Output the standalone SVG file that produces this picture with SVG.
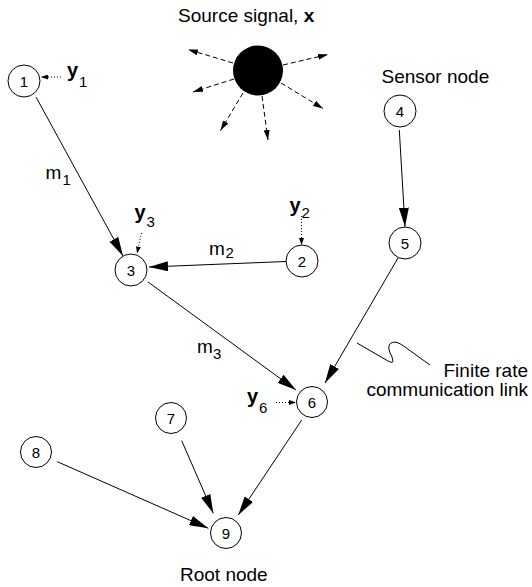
<svg xmlns="http://www.w3.org/2000/svg" width="532" height="587" viewBox="0 0 532 587">
<style>
text{font-family:"Liberation Sans",Arial,sans-serif;fill:#000}
.lbl{font-size:19px}
.num{font-size:15px;text-anchor:middle}
.yb{font-size:20px;font-weight:bold}
.sub{font-size:15px}
.node circle{fill:#fff;stroke:#000;stroke-width:1}
.edge{stroke:#000;stroke-width:1;fill:none;marker-end:url(#ah)}
.dot{stroke:#000;stroke-width:1;fill:none;stroke-dasharray:1 2;marker-end:url(#ahs)}
.dash{stroke:#000;stroke-width:1;fill:none;stroke-dasharray:5 3;marker-end:url(#ahd)}
</style>
<defs>
<marker id="ah" markerUnits="userSpaceOnUse" markerWidth="19" markerHeight="10" refX="19" refY="5" orient="auto"><path d="M0,0 L19,5 L0,10 z" fill="#000"/></marker>
<marker id="ahs" markerUnits="userSpaceOnUse" markerWidth="7" markerHeight="5" refX="7" refY="2.5" orient="auto"><path d="M0,0 L7,2.5 L0,5 z" fill="#000"/></marker>
<marker id="ahd" markerUnits="userSpaceOnUse" markerWidth="10" markerHeight="6" refX="10" refY="3" orient="auto"><path d="M0,0 L10,3 L0,6 z" fill="#000"/></marker>
</defs>

<g id="source">
<text class="lbl" x="178" y="22">Source signal, <tspan font-weight="bold">x</tspan></text>
<circle cx="258" cy="70.5" r="25" fill="#000"/>
<line class="dash" x1="233" y1="63" x2="188" y2="49.5"/>
<line class="dash" x1="283" y1="65" x2="328" y2="54.5"/>
<line class="dash" x1="234" y1="79" x2="193" y2="92"/>
<line class="dash" x1="281" y1="83" x2="323" y2="108.5"/>
<line class="dash" x1="243" y1="93" x2="220.5" y2="130.5"/>
<line class="dash" x1="262" y1="96" x2="268" y2="140"/>
</g>

<g id="connectors">
<line class="edge" x1="36" y1="97" x2="123" y2="256"/>
<line class="edge" x1="286" y1="261.5" x2="149" y2="267"/>
<line class="edge" x1="148" y1="282" x2="296" y2="390"/>
<line class="edge" x1="399.3" y1="130" x2="405" y2="226.7"/>
<line class="edge" x1="398" y1="258" x2="325" y2="383"/>
<line class="edge" x1="301.7" y1="420" x2="238.3" y2="515"/>
<line class="edge" x1="181.7" y1="440.7" x2="213.3" y2="513.3"/>
<line class="edge" x1="57.3" y1="461.7" x2="208.3" y2="528.3"/>
<line class="dot" x1="61" y1="77" x2="41" y2="77"/>
<line class="dot" x1="301.5" y1="216" x2="301.5" y2="245"/>
<line class="dot" x1="141.5" y1="233" x2="137" y2="253.5"/>
<line class="dot" x1="276" y1="402.5" x2="296" y2="402.5"/>
<path d="M357,343 L388,361 Q395,365 392,357 Q386,346 391,343 Q396,340 405,347 L430,365" stroke="#000" stroke-width="1" fill="none"/>
</g>

<g id="labels">
<text class="yb" x="67" y="77">y</text><text class="sub" x="79" y="86.7">1</text>
<text class="yb" x="289.5" y="212">y</text><text class="sub" x="301.5" y="217.5">2</text>
<text class="yb" x="134.5" y="219">y</text><text class="sub" x="146.5" y="227">3</text>
<text class="yb" x="247" y="402.5">y</text><text class="sub" x="259" y="413">6</text>
<text class="lbl" x="45.5" y="179">m</text><text class="sub" x="62.5" y="185">1</text>
<text class="lbl" x="209" y="255">m</text><text class="sub" x="225.5" y="258">2</text>
<text class="lbl" x="197" y="353">m</text><text class="sub" x="213" y="359">3</text>
<text class="lbl" x="381.5" y="82.5">Sensor node</text>
<text class="lbl" x="180" y="581">Root node</text>
<text class="lbl" x="528" y="377" text-anchor="end">Finite rate</text>
<text class="lbl" x="528" y="396" text-anchor="end">communication link</text>
</g>

<g id="n1" class="node"><circle cx="24" cy="81" r="16"/><text class="num" x="24" y="86.5">1</text></g>
<g id="n2" class="node"><circle cx="302" cy="261" r="16"/><text class="num" x="302" y="266.5">2</text></g>
<g id="n3" class="node"><circle cx="131" cy="270" r="16"/><text class="num" x="131" y="275.5">3</text></g>
<g id="n4" class="node"><circle cx="400" cy="111" r="16"/><text class="num" x="400" y="116.5">4</text></g>
<g id="n5" class="node"><circle cx="405" cy="243" r="16"/><text class="num" x="405" y="248.5">5</text></g>
<g id="n6" class="node"><circle cx="312" cy="402" r="15.5"/><text class="num" x="312" y="407.5">6</text></g>
<g id="n7" class="node"><circle cx="171" cy="418" r="15.5"/><text class="num" x="171" y="423.5">7</text></g>
<g id="n8" class="node"><circle cx="36" cy="452" r="15.5"/><text class="num" x="36" y="457.5">8</text></g>
<g id="n9" class="node"><circle cx="226" cy="533" r="15.5"/><text class="num" x="226" y="538.5">9</text></g>
</svg>
